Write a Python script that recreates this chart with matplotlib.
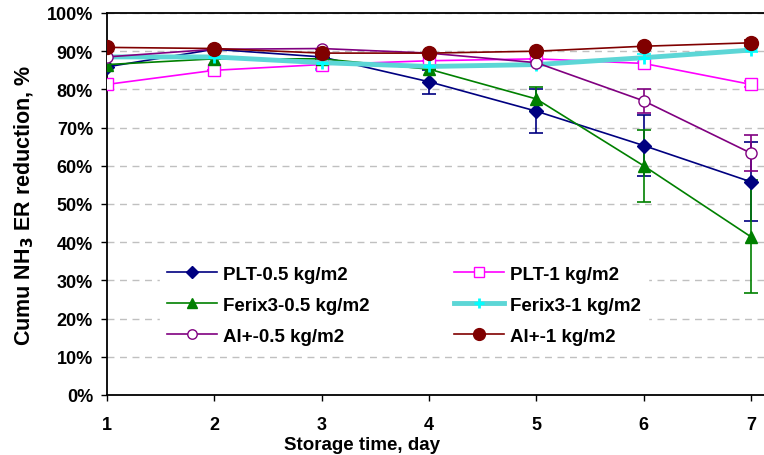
import numpy as np
import matplotlib
matplotlib.use("Agg")
import matplotlib.pyplot as plt
from matplotlib.ticker import PercentFormatter

days = [1, 2, 3, 4, 5, 6, 7]

plt_05 = [85.9, 90.5, 88.5, 82.0, 74.3, 65.3, 55.8]
plt_05_err = [0.0, 0.0, 0.0, 3.2, 5.7, 8.0, 10.3]
plt_1 = [81.3, 85.0, 86.5, 87.5, 88.0, 86.8, 81.3]
plt_1_err = [0.8, 0.0, 1.2, 0.0, 0.0, 0.0, 0.8]
ferix_05 = [86.5, 88.0, 88.0, 85.3, 77.5, 60.0, 41.4]
ferix_05_err = [0.0, 0.0, 0.0, 0.0, 3.1, 9.5, 14.8]
ferix_1 = [88.5, 88.5, 87.0, 86.0, 86.5, 88.3, 90.3]
ferix_1_err = [0.0, 0.0, 2.0, 0.0, 0.0, 1.0, 0.5]
al_05 = [88.5, 90.5, 90.7, 89.5, 87.0, 77.0, 63.3]
al_05_err = [0.0, 0.0, 0.0, 0.0, 0.0, 3.1, 4.7]
al_1 = [91.0, 90.7, 89.5, 89.5, 90.0, 91.3, 92.2]
al_1_err = [0.0, 0.0, 0.0, 0.0, 0.0, 0.0, 0.8]

plt.rcParams['font.family'] = 'Liberation Sans'
plt.rcParams['font.weight'] = 'bold'

fig = plt.figure(figsize=(7.64, 4.56), dpi=100)
ax = fig.add_axes([0.140, 0.1316, 0.860, 0.8377])

series = [
    ("PLT-0.5 kg/m2", plt_05, plt_05_err, dict(color="#000080", marker="D", ms=7, mfc="#000080", mec="#000080", lw=1.2)),
    ("PLT-1 kg/m2", plt_1, plt_1_err, dict(color="#FF00FF", marker="s", ms=9, mfc="white", mec="#FF00FF", lw=1.2)),
    ("Ferix3-0.5 kg/m2", ferix_05, ferix_05_err, dict(color="#008000", marker="^", ms=9, mfc="#008000", mec="#008000", lw=1.2)),
    ("Ferix3-1 kg/m2", ferix_1, ferix_1_err, dict(color="#5CD6D6", marker="+", ms=9, mfc="#00FFFF", mec="#00FFFF", mew=2, lw=3.5)),
    ("Al+-0.5 kg/m2", al_05, al_05_err, dict(color="#800080", marker="o", ms=8, mfc="white", mec="#800080", lw=1.2)),
    ("Al+-1 kg/m2", al_1, al_1_err, dict(color="#800000", marker="o", ms=10, mfc="#800000", mec="#800000", lw=1.2)),
]

handles = {}
for label, vals, err, style in series:
    ecol = style["color"] if label != "Ferix3-1 kg/m2" else "#00FFFF"
    yerr = np.array(err)
    ax.errorbar(days, vals, yerr=yerr, fmt="none", ecolor=ecol, elinewidth=1.2,
                capsize=5, capthick=1.2, zorder=2)
    h, = ax.plot(days, vals, label=label, zorder=3, **style)
    handles[label] = h

order = ["PLT-0.5 kg/m2", "Ferix3-0.5 kg/m2", "Al+-0.5 kg/m2",
         "PLT-1 kg/m2", "Ferix3-1 kg/m2", "Al+-1 kg/m2"]
leg = ax.legend([handles[k] for k in order], order, ncol=2, loc="center",
                bbox_to_anchor=(0.452, 0.235), frameon=True, fancybox=False,
                edgecolor="white", framealpha=1, fontsize=13.5,
                handlelength=2.67, handletextpad=0.3, columnspacing=4.5,
                labelspacing=0.75, borderaxespad=0, markerscale=0.85)
leg.set_zorder(4)

ax.set_xlim(1, 7.121)
ax.set_ylim(0, 100)
ax.set_xticks(days)
ax.set_yticks(np.arange(0, 101, 10))
ax.yaxis.set_major_formatter(PercentFormatter(decimals=0))
ax.tick_params(axis="both", labelsize=13, direction="out", length=4, width=1)
ax.tick_params(axis="x", pad=11)
ax.tick_params(axis="y", pad=6)
for lbl in ax.get_xticklabels() + ax.get_yticklabels():
    lbl.set_fontweight("bold")

ax.grid(axis="y", linestyle=(0, (5, 4)), color="#C0C0C0", linewidth=1)
ax.set_axisbelow(True)
ax.spines["right"].set_visible(False)
for s in ["left", "top", "bottom"]:
    ax.spines[s].set_linewidth(1.3)

ax.set_xlabel("Storage time, day", fontsize=13.5, fontweight="bold")
ax.xaxis.set_label_coords((362 - 107) / 657.0, -0.108)
ax.set_ylabel("Cumu NH$_3$ ER reduction, %", fontsize=15.5, fontweight="bold", labelpad=8)

fig.savefig("out.png", dpi=100)
